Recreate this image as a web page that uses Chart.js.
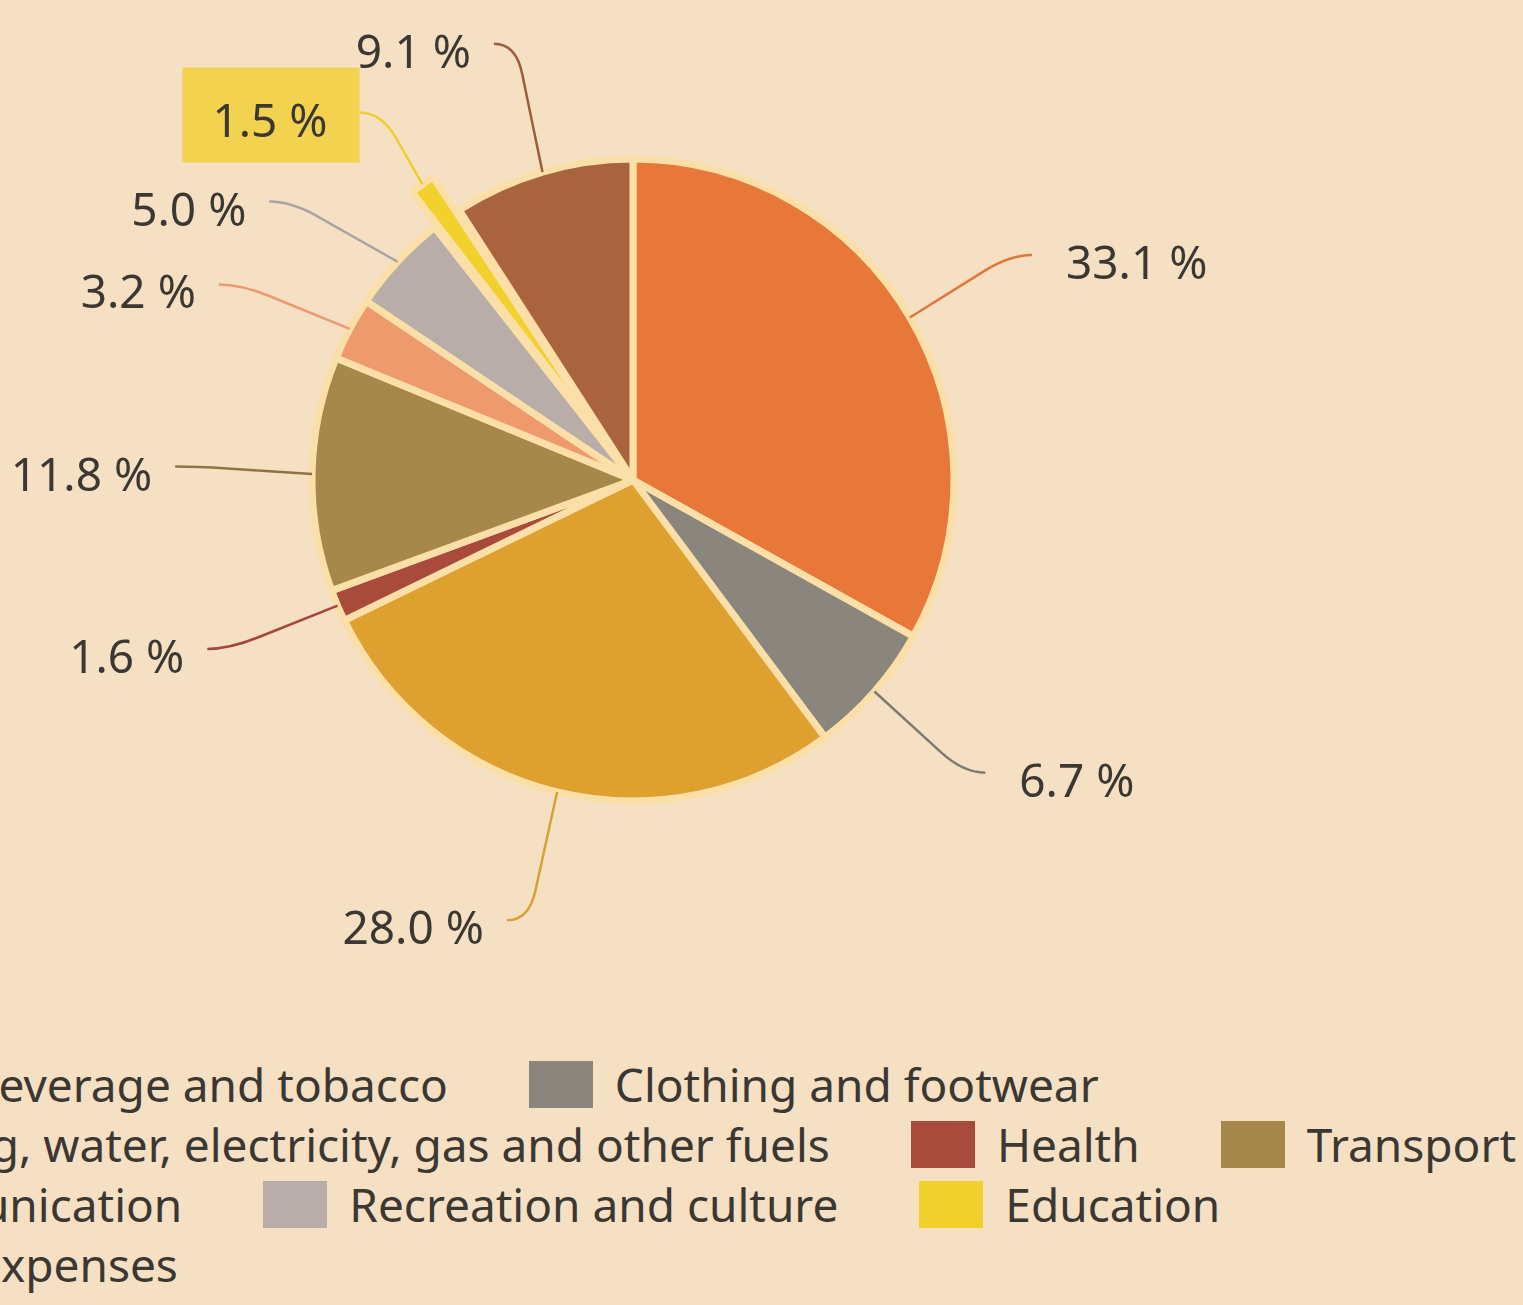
<!DOCTYPE html>
<html lang="en">
<head>
<meta charset="UTF-8">
<title>Household consumption expenditure</title>
<script src="https://cdn.jsdelivr.net/npm/chart.js@4/dist/chart.umd.min.js"></script>
<style>
  html, body { margin: 0; padding: 0; }
  body {
    width: 1523px; height: 1305px; overflow: hidden; position: relative;
    background: #f5e0c3; color: #3b3733;
    font-family: "Noto Sans", sans-serif;
  }
  .pie-wrap { position: absolute; left: 0; top: 0; width: 1266px; height: 960px; }
  .legend { position: absolute; left: -248px; top: 1054px; }
  .legend-row { display: flex; align-items: center; height: 60px; white-space: nowrap; }
  .legend-item { display: flex; align-items: center; margin-right: 81px; }
  .legend-box { width: 64px; height: 47px; margin-right: 22px; flex: none; }
  .legend-text { font-size: 46px; line-height: 60px; }
</style>
</head>
<body>
  <div class="pie-wrap"><canvas id="pie"></canvas></div>
  <div class="legend" id="legend"></div>

<script>
  const categories = [
    'Food, beverage and tobacco',
    'Clothing and footwear',
    'Housing, water, electricity, gas and other fuels',
    'Health',
    'Transport',
    'Communication',
    'Recreation and culture',
    'Education',
    'Other expenses'
  ];
  const shares = [33.1, 6.7, 28.0, 1.6, 11.8, 3.2, 5.0, 1.5, 9.1];

  const colors = ['#e8773a', '#8a867e', '#dea12f', '#a84b3d', '#a6884b', '#ef9a6d', '#b8ada8', '#f2d12c', '#a9643f'];
  const lineColors = ['#e0773a', '#7f7a72', '#d9a034', '#a5463b', '#8f7442', '#ec9a70', '#aaa2a6', '#efcf2e', '#9c5c3e'];

  // legend rows, as in the original layout
  const legendRows = [[0, 1], [2, 3, 4], [5, 6, 7], [8]];

  // the exploded slice with the boxed label
  const highlight = 7;
  // small angle nudges (degrees) for the callout labels
  const labelShift = [1, -1.5, 2.3, 1.4, 0.6, -2.8, -5.4, -1.2, -1.3];

  const leaderLabels = {
    id: 'leaderLabels',
    afterDatasetsDraw(chart) {
      const ctx = chart.ctx;
      const meta = chart.getDatasetMeta(0);
      ctx.save();
      ctx.font = '46px "Noto Sans"';
      ctx.lineWidth = 2.5;
      meta.data.forEach((arc, i) => {
        const p = arc.getProps(['x', 'y', 'startAngle', 'endAngle', 'outerRadius'], true);
        const off = arc.options.offset || 0;
        const mid = (p.startAngle + p.endAngle) / 2;
        const r0 = p.outerRadius + off * 0.48;
        const sx = p.x + Math.cos(mid) * r0;
        const sy = p.y + Math.sin(mid) * r0;
        const a = mid + labelShift[i] * Math.PI / 180;
        const ex = p.x + Math.cos(a) * 458;
        const ey = p.y + Math.sin(a) * 458;
        const side = Math.cos(a) >= 0 ? 1 : -1;
        const kx = ex - side * 22, ky = ey;
        const dx = kx - sx, dy = ky - sy;
        const len = Math.hypot(dx, dy);
        const t = Math.max(0, (len - 30) / len);

        ctx.strokeStyle = lineColors[i];
        ctx.beginPath();
        ctx.moveTo(sx, sy);
        ctx.lineTo(sx + dx * t, sy + dy * t);
        ctx.quadraticCurveTo(kx, ky, ex, ey);
        ctx.stroke();

        const text = shares[i].toFixed(1) + ' %';
        const w = ctx.measureText(text).width;
        let tx;
        if (i === highlight) {
          tx = ex - 32;
          ctx.fillStyle = '#f3d24f';
          ctx.fillRect(tx - w - 30, ey - 45, w + 30 + (ex - tx), 95);
        } else {
          tx = side > 0 ? ex + 34 : ex - 23;
        }
        ctx.fillStyle = '#3b3733';
        ctx.textAlign = side > 0 ? 'left' : 'right';
        ctx.textBaseline = 'alphabetic';
        ctx.fillText(text, tx, ey + 24);
      });
      ctx.restore();
    }
  };

  new Chart(document.getElementById('pie'), {
    type: 'pie',
    data: {
      labels: categories,
      datasets: [{
        data: shares,
        backgroundColor: colors,
        borderColor: '#fbdfa9',
        borderWidth: 7,
        offset: shares.map((v, i) => i === highlight ? 88 : 0)
      }]
    },
    options: {
      responsive: true,
      maintainAspectRatio: false,
      animation: false,
      radius: 321,
      layout: { padding: 0 },
      plugins: {
        legend: { display: false },
        tooltip: { enabled: false }
      }
    },
    plugins: [leaderLabels]
  });

  // html legend
  const legend = document.getElementById('legend');
  legendRows.forEach((row) => {
    const r = document.createElement('div');
    r.className = 'legend-row';
    row.forEach((i) => {
      const item = document.createElement('div');
      item.className = 'legend-item';
      item.innerHTML = `<span class="legend-box" style="background:${colors[i]}"></span><span class="legend-text">${categories[i]}</span>`;
      r.appendChild(item);
    });
    legend.appendChild(r);
  });
</script>
</body>
</html>
